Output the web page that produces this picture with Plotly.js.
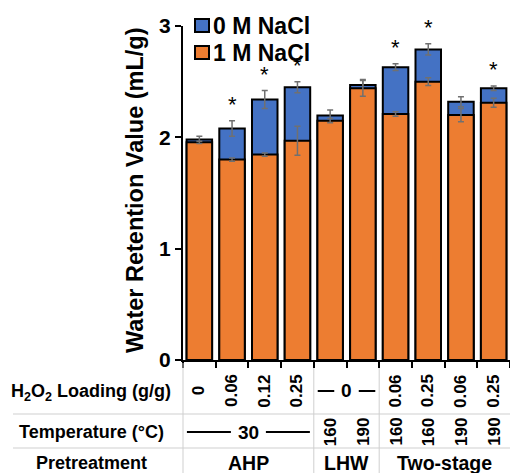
<!DOCTYPE html>
<html>
<head>
<meta charset="utf-8">
<script src="https://cdn.plot.ly/plotly-3.0.1.min.js"></script>
<style>html,body{margin:0;padding:0;background:#fff;}#chart{width:510px;height:473px;}</style>
</head>
<body>
<div id="chart"></div>
<script>
// ---- data ----
var seriesNames = ['0 M NaCl', '1 M NaCl'];
var wrv0 = [1.98, 2.08, 2.34, 2.45, 2.195, 2.47, 2.63, 2.79, 2.32, 2.44];
var wrv0Err = [0.03, 0.07, 0.08, 0.05, 0.05, 0.05, 0.03, 0.05, 0.045, 0.02];
var wrv1 = [1.955, 1.80, 1.845, 1.97, 2.15, 2.44, 2.21, 2.50, 2.20, 2.31];
var wrv1Err = [0.01, 0.015, 0.015, 0.13, 0.02, 0.07, 0.02, 0.035, 0.06, 0.04];
var significant = [false, true, true, true, false, false, true, true, false, true];
var h2o2Loading = ['0', '0.06', '0.12', '0.25', '0', '0', '0.06', '0.25', '0.06', '0.25'];
var temperature = ['30', '30', '30', '30', '160', '190', '160', '160', '190', '190'];
var pretreatment = ['AHP', 'AHP', 'AHP', 'AHP', 'LHW', 'LHW', 'Two-stage', 'Two-stage', 'Two-stage', 'Two-stage'];
var h2o2Merged = [[4, 5]];
var tempMerged = [[0, 3]];
var rowLabels = ['H<sub>2</sub>O<sub>2</sub> Loading (g/g)', 'Temperature (°C)', 'Pretreatment'];
var yTicks = [0, 1, 2, 3];
var yTitle = 'Water Retention Value (mL/g)';

// ---- styling ----
var FONT = 'Liberation Sans, Arial, sans-serif';
var BLUE = '#4472C4', ORANGE = '#ED7D31';
var W = 510, H = 473, L = 183, R = 0, T = 26, B = 113;
var PW = W - L - R, PH = H - T - B;
var n = wrv0.length;
var x = wrv0.map(function (_, i) { return i; });
var pxPerCat = PW / n;
function py(p) { return (T + PH - p) / PH; }       // pixel y -> paper y
function pxp(p) { return (p - L) / PW; }            // pixel x -> paper x

var errStyle = { type: 'data', visible: true, color: '#707070', thickness: 1.5, width: 3 };
var traces = [
  { type: 'bar', name: seriesNames[0], x: x, y: wrv0, width: 0.78,
    marker: { color: BLUE, line: { color: '#000', width: 2 } },
    error_y: Object.assign({ array: wrv0Err }, errStyle), showlegend: false, hoverinfo: 'y' },
  { type: 'bar', name: seriesNames[1], x: x, y: wrv1, width: 0.78,
    marker: { color: ORANGE, line: { color: '#000', width: 2 } },
    error_y: Object.assign({ array: wrv1Err }, errStyle), showlegend: false, hoverinfo: 'y' }
];

var annotations = [], shapes = [];
var rowY = [py(391), py(432), py(463)];
var gridColor = '#cfcfcf';

// asterisks
for (var i = 0; i < n; i++) {
  if (significant[i]) {
    annotations.push({ x: i, y: wrv0[i] + wrv0Err[i], xref: 'x', yref: 'y', text: '*',
      showarrow: false, yanchor: 'bottom', yshift: 2, font: { family: FONT, size: 22, color: '#000' } });
  }
}

function inMerged(i, merged) {
  for (var k = 0; k < merged.length; k++) if (i >= merged[k][0] && i <= merged[k][1]) return true;
  return false;
}
function addRow(values, merged, yPaper) {
  for (var i = 0; i < n; i++) {
    if (inMerged(i, merged)) continue;
    annotations.push({ x: i, y: yPaper, xref: 'x', yref: 'paper', text: values[i], textangle: -90,
      showarrow: false, xanchor: 'center', yanchor: 'middle', font: { family: FONT, size: 17, color: '#000', weight: 'bold' } });
  }
  merged.forEach(function (m) {
    var c = (m[0] + m[1]) / 2, label = values[m[0]];
    annotations.push({ x: c, y: yPaper, xref: 'x', yref: 'paper', text: label, showarrow: false,
      xanchor: 'center', yanchor: 'middle', font: { family: FONT, size: 19, color: '#000', weight: 'bold' } });
    var half = (label.length * 10.5 / 2 + 7) / pxPerCat;
    var a = m[0] - 0.5 + 0.12, b = m[1] + 0.5 - 0.12;
    [[a, c - half], [c + half, b]].forEach(function (seg) {
      shapes.push({ type: 'line', xref: 'x', yref: 'paper', x0: seg[0], x1: seg[1], y0: yPaper, y1: yPaper,
        line: { color: '#000', width: 2 } });
    });
  });
}
addRow(h2o2Loading, h2o2Merged, rowY[0]);
addRow(temperature, tempMerged, rowY[1]);

// pretreatment groups
var start = 0;
for (var i = 1; i <= n; i++) {
  if (i === n || pretreatment[i] !== pretreatment[start]) {
    annotations.push({ x: (start + i - 1) / 2, y: rowY[2], xref: 'x', yref: 'paper', text: pretreatment[start],
      showarrow: false, xanchor: 'center', yanchor: 'middle', font: { family: FONT, size: 19.5, color: '#000', weight: 'bold' } });
    if (i < n) {
      shapes.push({ type: 'line', xref: 'x', yref: 'paper', x0: i - 0.5, x1: i - 0.5, y0: py(363), y1: py(H + 2),
        line: { color: gridColor, width: 1 }, layer: 'below' });
    }
    start = i;
  }
}
// left vertical grid + horizontal separators
shapes.push({ type: 'line', xref: 'paper', yref: 'paper', x0: 0, x1: 0, y0: py(363), y1: py(H + 2), line: { color: gridColor, width: 1 } });
[414, 448].forEach(function (p) {
  shapes.push({ type: 'line', xref: 'paper', yref: 'paper', x0: pxp(13), x1: 1, y0: py(p), y1: py(p), line: { color: gridColor, width: 1 } });
});

// row labels
rowLabels.forEach(function (t, k) {
  annotations.push({ x: pxp(91), y: rowY[k] + (k === 0 ? -0.005 : 0), xref: 'paper', yref: 'paper', text: t, showarrow: false,
    xanchor: 'center', yanchor: 'middle', font: { family: FONT, size: 18, color: '#000', weight: 'bold' } });
});

// y title
annotations.push({ x: pxp(135), y: py(190), xref: 'paper', yref: 'paper', text: yTitle, textangle: -90, showarrow: false,
  xanchor: 'center', yanchor: 'middle', font: { family: FONT, size: 23.5, color: '#000', weight: 'bold' } });

// legend (manual)
var legendColors = [BLUE, ORANGE];
[[19, 32], [46, 59]].forEach(function (r, k) {
  shapes.push({ type: 'rect', xref: 'paper', yref: 'paper', x0: pxp(195), x1: pxp(209), y0: py(r[1]), y1: py(r[0]),
    fillcolor: legendColors[k], line: { color: '#000', width: 2 } });
  annotations.push({ x: pxp(211), y: py((r[0] + r[1]) / 2 + 0.5), xref: 'paper', yref: 'paper', text: seriesNames[k],
    showarrow: false, xanchor: 'left', yanchor: 'middle', font: { family: FONT, size: 23, color: '#000', weight: 'bold' } });
});

var layout = {
  width: W, height: H,
  margin: { l: L, r: R, t: T, b: B, pad: 0 },
  paper_bgcolor: '#fff', plot_bgcolor: '#fff',
  barmode: 'overlay',
  showlegend: false,
  xaxis: { range: [-0.5, n - 0.5], showgrid: false, zeroline: false, showline: true, linecolor: '#000', linewidth: 2,
    tickmode: 'array', tickvals: x.concat([n]).map(function (v) { return v - 0.5; }),
    ticks: 'outside', ticklen: 6, tickwidth: 2, tickcolor: '#000', showticklabels: false, fixedrange: true },
  yaxis: { range: [0, 3], tickvals: yTicks, showgrid: false, zeroline: false, showline: true, linecolor: '#000', linewidth: 2,
    ticks: 'outside', ticklen: 6, tickwidth: 2, tickcolor: '#000',
    tickfont: { family: FONT, size: 21, color: '#000', weight: 'bold' }, fixedrange: true },
  annotations: annotations,
  shapes: shapes
};

Plotly.newPlot('chart', traces, layout, { displayModeBar: false, staticPlot: true });
</script>
</body>
</html>
